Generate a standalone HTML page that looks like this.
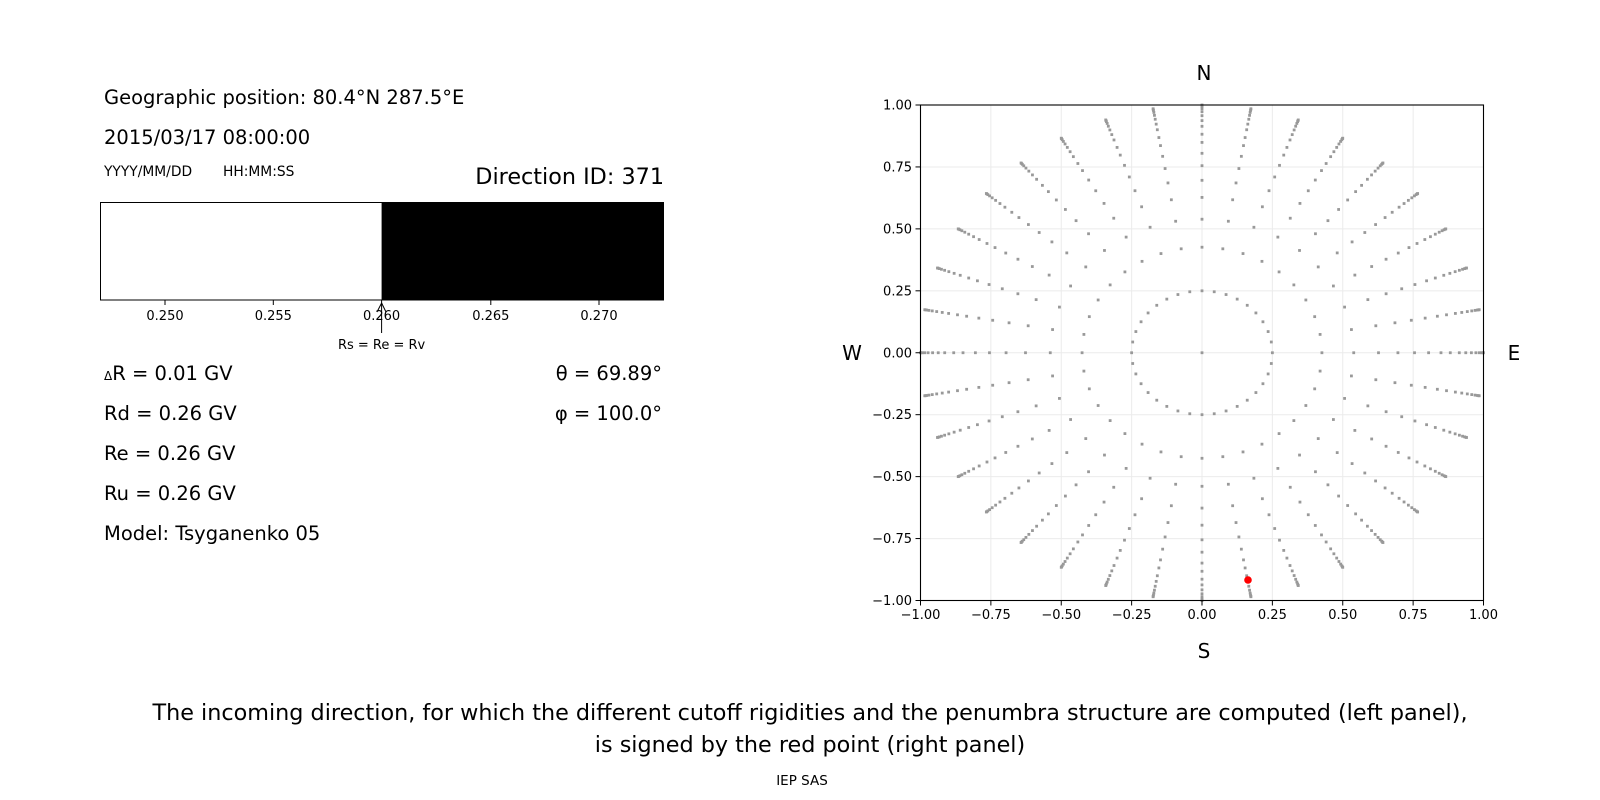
<!DOCTYPE html>
<html><head><meta charset="utf-8"><style>
html,body{margin:0;padding:0;background:#fff;}
svg{display:block;font-family:"DejaVu Sans","Liberation Sans",sans-serif;}
</style></head><body>
<svg id="s" width="1600" height="800" viewBox="0 0 1600 800" xmlns="http://www.w3.org/2000/svg">
<rect width="1600" height="800" fill="#fff"/>
<g font-size="19.5" fill="#000">
<text x="104" y="104">Geographic position: 80.4°N 287.5°E</text>
<text x="104" y="144">2015/03/17 08:00:00</text>
<text x="104" y="176" font-size="13.8">YYYY/MM/DD</text>
<text x="223" y="176" font-size="13.8">HH:MM:SS</text>
<text x="664" y="184" font-size="22.3" text-anchor="end">Direction ID: 371</text>
<rect x="381.6" y="202" width="282.4" height="98" fill="#000"/>
<rect x="100.5" y="202.5" width="563" height="97.5" fill="none" stroke="#000" stroke-width="1"/>
<g stroke="#000" stroke-width="1">
<line x1="165" y1="300" x2="165" y2="305"/><line x1="273.3" y1="300" x2="273.3" y2="305"/>
<line x1="381.6" y1="300" x2="381.6" y2="305"/><line x1="490.8" y1="300" x2="490.8" y2="305"/>
<line x1="599" y1="300" x2="599" y2="305"/>
<line x1="381.6" y1="303" x2="381.6" y2="333"/>
<polyline points="377,312 381.6,303 386,312" fill="none"/>
</g>
<g font-size="13" text-anchor="middle">
<text x="165" y="320">0.250</text><text x="273.3" y="320">0.255</text><text x="381.6" y="320">0.260</text>
<text x="490.8" y="320">0.265</text><text x="599" y="320">0.270</text>
<text x="381.6" y="349">Rs = Re = Rv</text>
</g>
<text x="104" y="380"><tspan font-size="12">Δ</tspan>R = 0.01 GV</text>
<text x="104" y="420">Rd = 0.26 GV</text>
<text x="104" y="460">Re = 0.26 GV</text>
<text x="104" y="500">Ru = 0.26 GV</text>
<text x="104" y="540">Model: Tsyganenko 05</text>
<text x="662" y="380" text-anchor="end">θ = 69.89°</text>
<text x="662" y="420" text-anchor="end">φ = 100.0°</text>
</g>
<g id="grid" stroke="#ebebeb" stroke-width="1"></g>
<g id="dots" fill="#999"></g>
<circle cx="1248" cy="580" r="3.8" fill="#f00"/>
<rect x="920.5" y="105" width="563" height="495.5" fill="none" stroke="#000" stroke-width="1.1"/>
<g id="ticks" stroke="#000" stroke-width="1"></g>
<g id="tl" font-size="13" fill="#000"></g>
<g font-size="20" text-anchor="middle">
<text x="1204" y="80">N</text><text x="1204" y="658">S</text>
<text x="852" y="360">W</text><text x="1514" y="360">E</text>
</g>
<g font-size="22.3" text-anchor="middle">
<text x="810" y="720">The incoming direction, for which the different cutoff rigidities and the penumbra structure are computed (left panel),</text>
<text x="810" y="752">is signed by the red point (right panel)</text>
<text x="802" y="785" font-size="13.5">IEP SAS</text>
</g>
</svg>
<script>
var NS="http://www.w3.org/2000/svg";
function X(v){return 1202+v*281.5;} function Y(v){return 352.75-v*247.75;}
function el(p,t,a,txt){var e=document.createElementNS(NS,t);for(var k in a)e.setAttribute(k,a[k]);if(txt)e.textContent=txt;document.getElementById(p).appendChild(e);}
var vals=[-1,-0.75,-0.5,-0.25,0,0.25,0.5,0.75,1];
vals.forEach(function(v){
 el("grid","line",{x1:X(v),x2:X(v),y1:105,y2:600.5});
 el("grid","line",{x1:920.5,x2:1483.5,y1:Y(v),y2:Y(v)});
 el("ticks","line",{x1:X(v),x2:X(v),y1:600.5,y2:605.5});
 el("ticks","line",{x1:915.5,x2:920.5,y1:Y(v),y2:Y(v)});
 var s=(v<0?"\u2212":"")+Math.abs(v).toFixed(2);
 el("tl","text",{x:X(v),y:619,"text-anchor":"middle"},s);
 el("tl","text",{x:912,y:Y(v)+4.5,"text-anchor":"end"},s);
});
function d(r,a){el("dots","rect",{x:X(r*Math.sin(a))-1.4,y:Y(r*Math.cos(a))-1.4,width:2.8,height:2.8});}
d(0,0);
for(var i=0;i<36;i++){d(0.25,i*Math.PI/18);d(0.426,i*Math.PI/18);}
var rs=[0.539,0.627,0.696,0.755,0.805,0.849,0.882,0.914,0.937,0.957,0.973,0.985,0.993,0.998,1.0];
for(var j=0;j<36;j++){rs.forEach(function(r){d(r,j*Math.PI/18);});}
</script>
</body></html>
